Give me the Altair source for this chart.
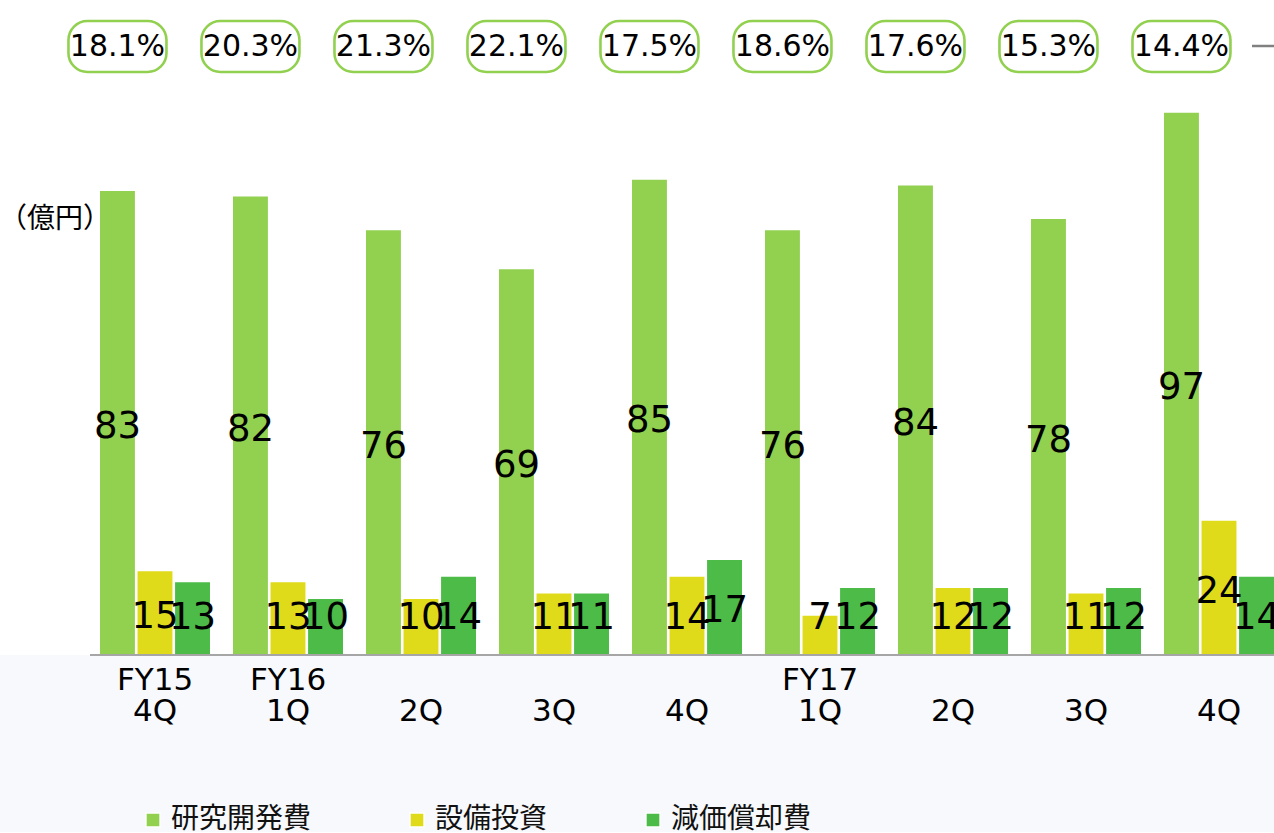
import altair as alt
import pandas as pd

# ---- data ----
groups = ["FY15 4Q", "FY16 1Q", "FY16 2Q", "FY16 3Q", "FY16 4Q",
          "FY17 1Q", "FY17 2Q", "FY17 3Q", "FY17 4Q"]
label_line1 = ["FY15", "FY16", "", "", "", "FY17", "", "", ""]
label_line2 = ["4Q", "1Q", "2Q", "3Q", "4Q", "1Q", "2Q", "3Q", "4Q"]
series = ["研究開発費", "設備投資", "減価償却費"]
rd = [83, 82, 76, 69, 85, 76, 84, 78, 97]          # 研究開発費
capex = [15, 13, 10, 11, 14, 7, 12, 11, 24]        # 設備投資
dep = [13, 10, 14, 11, 17, 12, 12, 12, 14]         # 減価償却費
ratio = ["18.1%", "20.3%", "21.3%", "22.1%", "17.5%",
         "18.6%", "17.6%", "15.3%", "14.4%"]
colors = ["#92d050", "#dfdb1b", "#4cbb48"]

rows = []
for name, vals in zip(series, [rd, capex, dep]):
    for g, v in zip(groups, vals):
        rows.append({"group": g, "series": name, "value": v})
bars_df = pd.DataFrame(rows)
pct_df = pd.DataFrame({"group": groups, "series": series[0], "ratio": ratio})
lab_df = pd.DataFrame({"group": groups, "l1": label_line1, "l2": label_line2})

W, H = 1174, 559
NUM_FONT = "DejaVu Sans"
JP_FONT = "Noto Sans CJK JP"

x_enc = alt.X("group:N", scale=alt.Scale(domain=groups, paddingInner=0.173, paddingOuter=0), axis=None)
xo_enc = alt.XOffset("series:N", scale=alt.Scale(domain=series, paddingInner=0.07, paddingOuter=0))
y_scale = alt.Scale(domain=[0, 100])

one = alt.Data(values=[{}])

bg = alt.Chart(one).mark_rect(color="#f7f9fd").encode(
    x=alt.value(-100), x2=alt.value(W), y=alt.value(H), y2=alt.value(H + 180)
)

bars = alt.Chart(bars_df).mark_bar().encode(
    x=x_enc,
    xOffset=xo_enc,
    y=alt.Y("value:Q", scale=y_scale, axis=None),
    color=alt.Color(
        "series:N",
        scale=alt.Scale(domain=series, range=colors),
        legend=alt.Legend(
            title=None, orient="none", legendX=39, legendY=710, direction="horizontal",
            symbolType="square", symbolSize=200, symbolStrokeColor="white", symbolStrokeWidth=1.5,
            symbolOpacity=1, labelFont=JP_FONT, labelFontSize=28, labelColor="#111111",
            labelOffset=4, columnPadding=91, padding=0, labelLimit=400,
        ),
    ),
)

bar_labels = alt.Chart(bars_df).transform_calculate(
    ly="max(datum.value / 2, 7.3)"
).mark_text(font=NUM_FONT, fontSize=37, color="black", baseline="middle", align="center", dy=4).encode(
    x=x_enc, xOffset=xo_enc, y=alt.Y("ly:Q", scale=y_scale), text="value:Q"
)

boxes = alt.Chart(pct_df).mark_bar(
    width=98, cornerRadius=19, fill="white", stroke="#92d050", strokeWidth=2.6
).encode(x=x_enc, xOffset=xo_enc, y=alt.value(-75), y2=alt.value(-24))

box_text = alt.Chart(pct_df).mark_text(
    font=NUM_FONT, fontSize=30, color="black", baseline="middle", align="center", dy=1
).encode(x=x_enc, xOffset=xo_enc, y=alt.value(-50), text="ratio:N")

xl1 = alt.Chart(lab_df).mark_text(
    font=NUM_FONT, fontSize=31, color="black", baseline="middle", align="center"
).encode(x=x_enc, y=alt.value(585), text="l1:N")
xl2 = alt.Chart(lab_df).mark_text(
    font=NUM_FONT, fontSize=31, color="black", baseline="middle", align="center"
).encode(x=x_enc, y=alt.value(616), text="l2:N")

axis_line = alt.Chart(one).mark_rule(color="#a6a6a6", strokeWidth=2).encode(
    x=alt.value(-10), x2=alt.value(W), y=alt.value(H)
)

unit = alt.Chart(one).mark_text(
    text="（億円）", font=JP_FONT, fontSize=28, color="black", baseline="middle", align="center"
).encode(x=alt.value(-45), y=alt.value(124))

dash = alt.Chart(one).mark_rule(color="#808080", strokeWidth=2.5).encode(
    x=alt.value(W - 22), x2=alt.value(W), y=alt.value(-50)
)

chart = alt.layer(
    bg, bars, bar_labels, boxes, box_text, xl1, xl2, axis_line, unit, dash
).properties(
    width=W, height=H,
    autosize=alt.AutoSizeParams(type="none"),
    padding={"left": 100, "top": 96, "right": 0, "bottom": 177},
    background="white",
).configure_view(stroke=None)

chart.save("out.html", embed_options={"renderer": "svg", "actions": False})
